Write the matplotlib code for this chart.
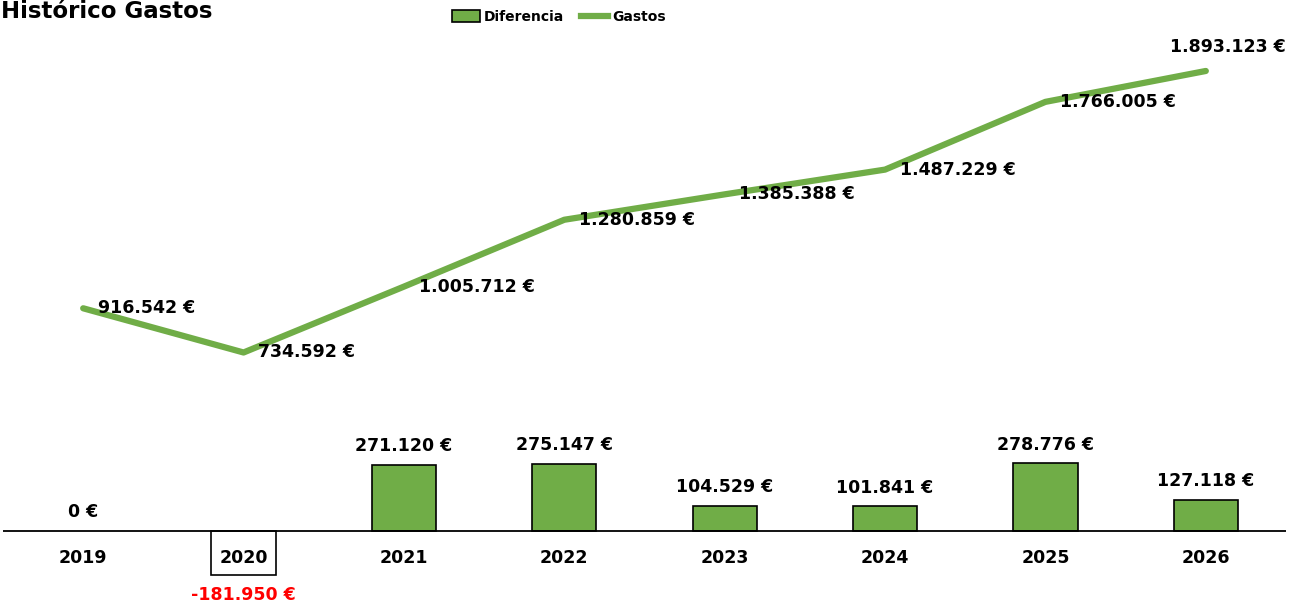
import matplotlib
matplotlib.use("Agg")
import matplotlib.pyplot as plt
from matplotlib.patches import Patch
from matplotlib.lines import Line2D

plt.rcParams['font.family'] = ['DejaVu Sans']

years = ['2019', '2020', '2021', '2022', '2023', '2024', '2025', '2026']
gastos = [916542, 734592, 1005712, 1280859, 1385388, 1487229, 1766005, 1893123]
diferencia = [0, -181950, 271120, 275147, 104529, 101841, 278776, 127118]

green = '#70AD47'
fs = 12.5


def eur(v):
    s = f"{abs(v):,}".replace(',', '.')
    return ('-' if v < 0 else '') + s + ' €'


W, H = 1303, 605
fig = plt.figure(figsize=(W / 100, H / 100), dpi=100)

# axes placed so that zero sits at y=531px and categories are ~160px apart
ymin, ymax = -250000, 2050000
scale = 0.000243  # px per euro
top_px = 531 - ymax * scale
bot_px = 531 - ymin * scale
ax = fig.add_axes([3 / W, (H - bot_px) / H, 1283 / W, (bot_px - top_px) / H])
ax.set_xlim(-0.5, len(years) - 0.5)
ax.set_ylim(ymin, ymax)
ax.axis('off')

x = list(range(len(years)))

# bars
for i, v in enumerate(diferencia):
    if v == 0:
        continue
    fc = green if v > 0 else 'white'
    ax.bar(i, v, width=0.4, color=fc, edgecolor='black', linewidth=1.2, zorder=2)

ax.axhline(0, color='black', linewidth=1.3, zorder=3)

# line
ax.plot(x, gastos, color=green, linewidth=4.5, solid_capstyle='round', zorder=4)

# line labels
for i, v in enumerate(gastos):
    if i == len(gastos) - 1:
        ax.annotate(eur(v), (i, v), xytext=(16, 17), textcoords='offset points',
                    ha='center', va='center', fontsize=fs, fontweight='bold', zorder=6)
    else:
        ax.annotate(eur(v), (i, v), xytext=(10.5, 0), textcoords='offset points',
                    ha='left', va='center', fontsize=fs, fontweight='bold', zorder=6)

# bar labels
for i, v in enumerate(diferencia):
    if v < 0:
        ax.annotate(eur(v), (i, v), xytext=(0, -14.5), textcoords='offset points',
                    ha='center', va='center', fontsize=fs, fontweight='bold',
                    color='#FF0000', zorder=6)
    else:
        ax.annotate(eur(v), (i, v), xytext=(0, 13.5), textcoords='offset points',
                    ha='center', va='center', fontsize=fs, fontweight='bold', zorder=6)

# category labels
for i, y in enumerate(years):
    ax.annotate(y, (i, 0), xytext=(0, -19.5), textcoords='offset points',
                ha='center', va='center', fontsize=fs, fontweight='bold', zorder=6)

fig.text(0.001, 1 - 18 / H, 'Histórico Gastos', ha='left', va='baseline',
         fontsize=16.5, fontweight='bold')

handles = [Patch(facecolor=green, edgecolor='black', linewidth=1.2, label='Diferencia'),
           Line2D([0], [0], color=green, linewidth=4.5, label='Gastos')]
fig.legend(handles=handles, loc='center', bbox_to_anchor=(559 / W, 1 - 17 / H),
           ncol=2, frameon=False, prop={'weight': 'bold', 'size': 10},
           handlelength=2.0, handleheight=0.9, handletextpad=0.3,
           columnspacing=1.2, borderaxespad=0)

fig.savefig('out.png', dpi=100)
